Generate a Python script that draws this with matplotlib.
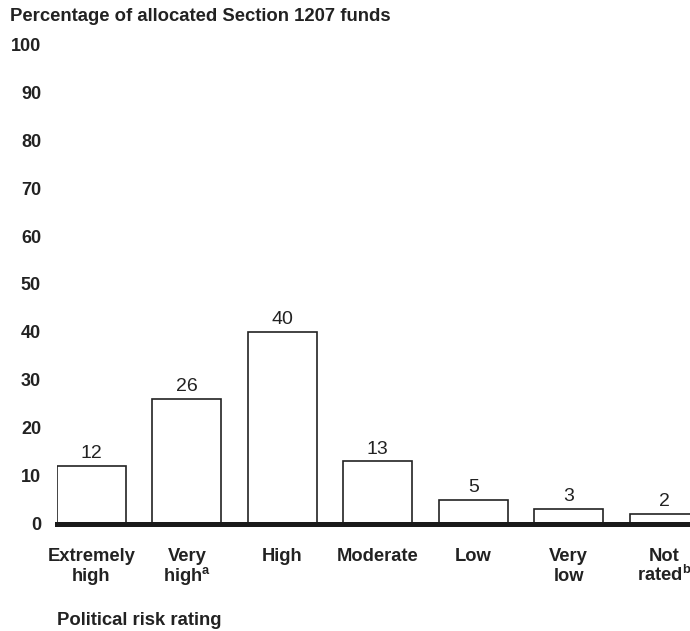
import matplotlib
matplotlib.use("Agg")
import matplotlib.pyplot as plt
from matplotlib.transforms import blended_transform_factory

plt.rcParams['font.family'] = ['Liberation Sans', 'DejaVu Sans']
plt.rcParams['mathtext.fontset'] = 'custom'
plt.rcParams['mathtext.rm'] = 'Liberation Sans:bold'
plt.rcParams['mathtext.bf'] = 'Liberation Sans:bold'
plt.rcParams['mathtext.it'] = 'Liberation Sans:bold'

# data
categories = ["Extremely\nhigh", "Very\nhigh$^{\\mathbf{a}}$", "High", "Moderate",
              "Low", "Very\nlow", "Not\nrated$^{\\mathbf{b}}$"]
values = [12, 26, 40, 13, 5, 3, 2]
yticks = [0, 10, 20, 30, 40, 50, 60, 70, 80, 90, 100]

fig = plt.figure(figsize=(6.9, 6.31), dpi=100)
ax = fig.add_axes([57 / 690, 107.5 / 631, 633 / 690, 479 / 631])

x = list(range(len(values)))
ax.bar(x, values, width=0.72, color="white", edgecolor="#222222",
       linewidth=1.2, zorder=2)
for xi, v in zip(x, values):
    ax.text(xi, v + 1.6, str(v), ha="center", va="baseline", fontsize=14,
            color="#222222")

ax.set_xlim(-0.36, 6.27)
ax.set_ylim(0, 100)
ax.axhline(0, color="#1a1a1a", linewidth=3.6, zorder=3, clip_on=False)

for s in ["top", "right", "left", "bottom"]:
    ax.spines[s].set_visible(False)

ax.set_yticks(yticks)
ax.set_yticklabels([str(t) for t in yticks], fontsize=13, fontweight="bold",
                   color="#222222")
ax.tick_params(axis="y", length=0, pad=11.5)
ax.set_xticks([])

# category labels, one text per line so the baselines stay even
trans = blended_transform_factory(ax.transData, fig.transFigure)
line_y = [561, 581]
for xi, cat in zip(x, categories):
    for k, line in enumerate(cat.split("\n")):
        ax.text(xi, 1 - line_y[k] / 631, line, transform=trans,
                ha="center", va="baseline", fontsize=13.2,
                fontweight="bold", color="#222222", clip_on=False)

fig.text(10 / 690, 1 - 21 / 631, "Percentage of allocated Section 1207 funds",
         fontsize=13.3, fontweight="bold", va="baseline", ha="left",
         color="#222222")
fig.text(57 / 690, 1 - 625 / 631, "Political risk rating",
         fontsize=13.3, fontweight="bold", va="baseline", ha="left",
         color="#222222")

fig.savefig("out.png", dpi=100)
